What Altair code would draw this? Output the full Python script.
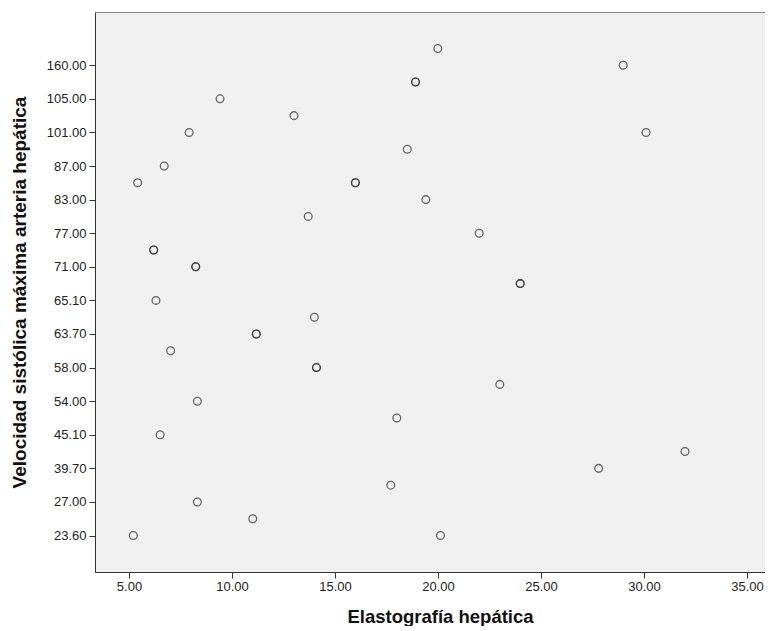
import altair as alt
import pandas as pd

# Elastografía hepática (x) and velocidad sistólica category (y)
x_vals = [19.99, 28.99, 18.91, 18.91, 9.42, 13.01, 7.92, 30.10, 18.51, 6.71,
          5.42, 15.99, 15.99, 19.41, 13.70, 22.00, 6.20, 6.20, 8.24, 8.24,
          23.99, 23.99, 6.31, 14.00, 11.18, 11.18, 7.02, 14.10, 14.10, 23.00,
          8.32, 18.00, 6.51, 31.99, 27.80, 17.71, 8.32, 11.01, 5.21, 20.12]
y_vals = ["170.00", "160.00", "110.00", "110.00", "105.00", "104.00", "101.00", "101.00", "95.00", "87.00",
          "85.00", "85.00", "85.00", "83.00", "80.00", "77.00", "74.00", "74.00", "71.00", "71.00",
          "68.00", "68.00", "65.10", "64.00", "63.70", "63.70", "60.00", "58.00", "58.00", "56.00",
          "54.00", "50.00", "45.10", "42.00", "39.70", "35.00", "27.00", "25.00", "23.60", "23.60"]

# category order (bottom to top)
y_order = ["23.60", "25.00", "27.00", "35.00", "39.70", "42.00", "45.10", "50.00",
           "54.00", "56.00", "58.00", "60.00", "63.70", "64.00", "65.10", "68.00",
           "71.00", "74.00", "77.00", "80.00", "83.00", "85.00", "87.00", "95.00",
           "101.00", "104.00", "105.00", "110.00", "160.00", "170.00"]
# labelled categories on the axis
y_labels = ["23.60", "27.00", "39.70", "45.10", "54.00", "58.00", "63.70", "65.10",
            "71.00", "77.00", "83.00", "87.00", "101.00", "105.00", "160.00"]
x_ticks = [5, 10, 15, 20, 25, 30, 35]

df = pd.DataFrame({"x": x_vals, "y": y_vals})

order_js = "[" + ",".join("'%s'" % c for c in y_order) + "]"
label_pos = [y_order.index(c) for c in y_labels]

FONT = "Liberation Sans"

chart = alt.Chart(df).transform_calculate(
    pos="indexof(%s, datum.y)" % order_js
).mark_point(
    shape="circle", filled=False, size=60, strokeWidth=1.3, color="#333333", opacity=0.75
).encode(
    x=alt.X("x:Q", title="Elastografía hepática",
            scale=alt.Scale(domain=[3.35, 35.874], nice=False, zero=False),
            axis=alt.Axis(values=x_ticks, format=".2f", grid=False, tickSize=6,
                          tickColor="#333333", domainColor="#333333", labelFont=FONT,
                          labelFontSize=13, labelColor="#222222", labelPadding=2,
                          titleFont=FONT, titleFontSize=18.5, titleFontWeight="bold",
                          titleColor="#111111", titlePadding=14, titleX=345)),
    y=alt.Y("pos:Q", title="Velocidad sistólica máxima arteria hepática",
            scale=alt.Scale(domain=[-2.17, len(y_order) - 1 + 2.17], nice=False, zero=False),
            axis=alt.Axis(values=label_pos, labelExpr="%s[datum.value]" % order_js,
                          grid=False, tickSize=6, tickColor="#333333",
                          domainColor="#333333", labelFont=FONT, labelFontSize=13,
                          labelColor="#222222", labelPadding=3, titleFont=FONT,
                          titleFontSize=19, titleFontWeight="bold", titleColor="#111111",
                          titlePadding=17))
).properties(
    width=670, height=560,
    padding={"left": 2, "top": 4, "right": 0, "bottom": 0}
).configure_view(
    fill="#f0f0f0", stroke="#8a8a8a", strokeWidth=1
)

chart.save("out.html", embed_options={"renderer": "svg", "actions": False})
